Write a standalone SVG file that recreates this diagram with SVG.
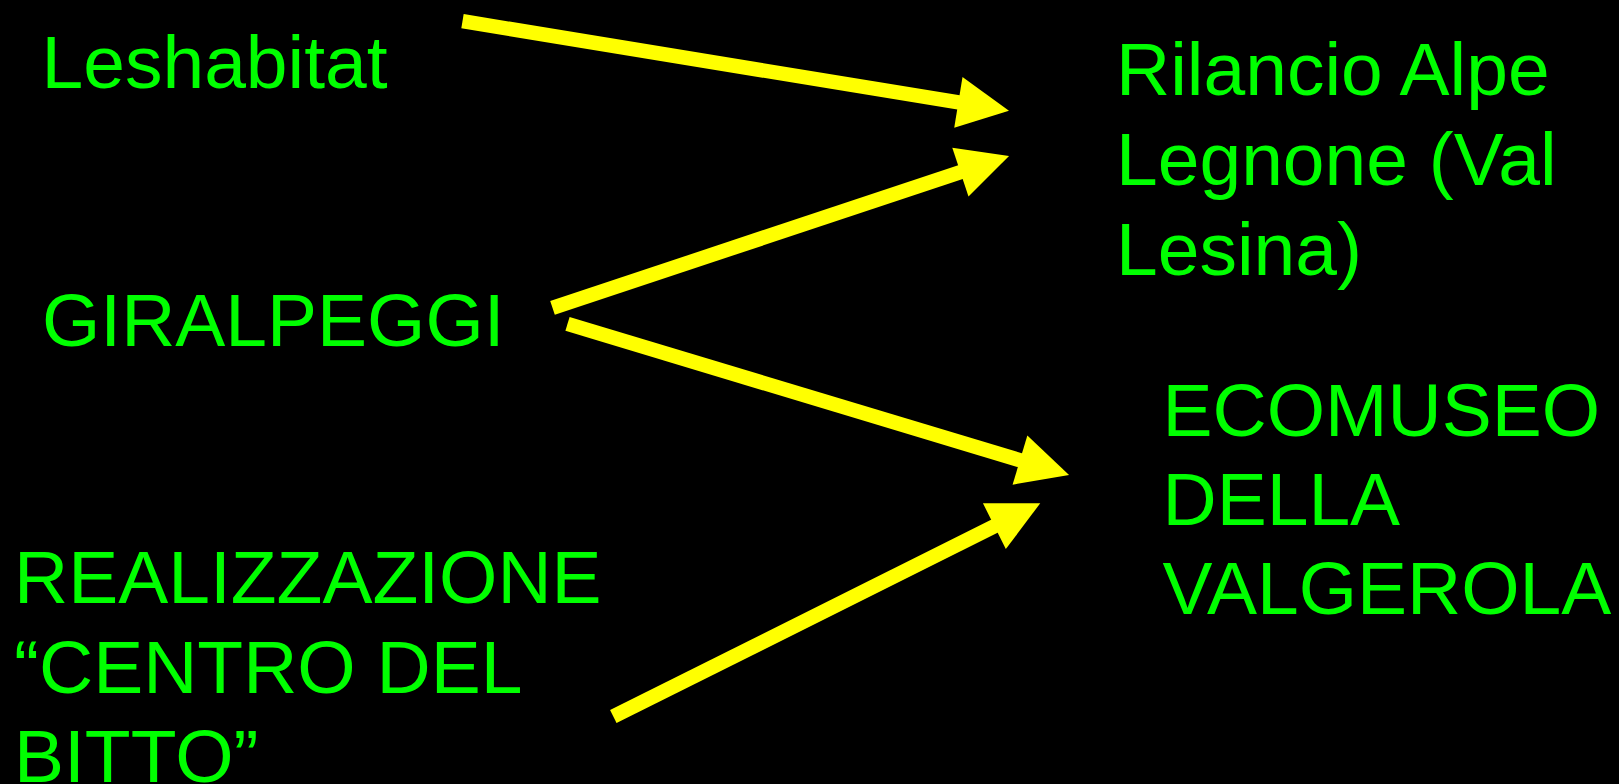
<svg xmlns="http://www.w3.org/2000/svg" width="1619" height="784" viewBox="0 0 1619 784">
<style>
.t{font-family:"Liberation Sans",Arial,sans-serif;font-size:75px;fill:#00FF00}
.c{stroke:#FFFF00;stroke-width:14.5;fill:none;marker-end:url(#ah)}
</style>
<defs>
<marker id="ah" markerUnits="userSpaceOnUse" orient="auto" refX="3" refY="0" markerWidth="60" markerHeight="60" viewBox="-5 -25 55 50" overflow="visible">
<path d="M0,-23.5 L47,0 L0,23.5 Z" fill="#FFFF00"/>
</marker>
</defs>
<rect width="1619" height="784" fill="#000"/>
<g id="connectors">
<line class="c" x1="462.5" y1="21.2" x2="961.6" y2="102.9"/>
<line class="c" x1="552.5" y1="307.9" x2="963.5" y2="171.1"/>
<line class="c" x1="567.5" y1="323.9" x2="1023.1" y2="461.1"/>
<line class="c" x1="613.3" y1="716.6" x2="997.3" y2="524.7"/>
</g>
<g id="leshabitat"><text class="t" x="41.5" y="88">Leshabitat</text></g>
<g id="giralpeggi"><text class="t" x="42" y="346">GIRALPEGGI</text></g>
<g id="centro"><text class="t" x="14" y="603">REALIZZAZIONE</text><text class="t" x="14" y="692.5">“CENTRO DEL</text><text class="t" x="14" y="782">BITTO”</text></g>
<g id="rilancio"><text class="t" x="1116" y="95">Rilancio Alpe</text><text class="t" x="1116" y="185">Legnone (Val</text><text class="t" x="1116" y="275">Lesina)</text></g>
<g id="ecomuseo"><text class="t" x="1162.5" y="436">ECOMUSEO</text><text class="t" x="1162.5" y="525">DELLA</text><text class="t" x="1162.5" y="614">VALGEROLA</text></g>
</svg>
